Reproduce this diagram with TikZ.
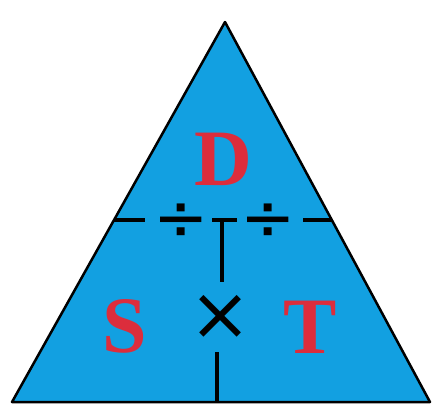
\documentclass[tikz,border=0pt]{standalone}
\usepackage{fontspec}
\newfontfamily\letterfont{Liberation Serif}
\newfontfamily\signfont{DejaVu Sans}
\usetikzlibrary{calc}
\definecolor{trianglecyan}{RGB}{18,160,225}
\definecolor{letterred}{RGB}{220,45,60}

\begin{document}
\begin{tikzpicture}[x=1pt, y=-1pt,
    letter/.style={text=letterred, font=\letterfont\bfseries\fontsize{80}{80}\selectfont, inner sep=0pt},
    opsign/.style={inner sep=0pt, font=\signfont\fontsize{66}{66}\selectfont},
    divline/.style={line width=3.5pt}
]
    \useasboundingbox (0,0) rectangle (433,410);
    % triangle
    \coordinate (apex) at (225,22);
    \coordinate (baseL) at (12,402);
    \coordinate (baseR) at (430,402);
    \draw [fill=trianglecyan, line width=2.5pt, line join=round] (apex) -- (baseR) -- (baseL) -- cycle;

    % letters
    \node [letter] (dist) at (223,159) {D};
    \node [letter] (speed) at (125,326) {S};
    \node [letter] (time) at (310,327) {T};

    % operation signs
    \node [opsign] (divL) at (181,222) {÷};
    \node [opsign] (divR) at (268,222) {÷};
    \node [opsign, font=\signfont\fontsize{74}{74}\selectfont] (mult) at (220,317) {×};

    % dashed split line
    \coordinate (h1) at (114,220);
    \coordinate (h2) at (145,220);
    \coordinate (h3) at (212,220);
    \coordinate (h4) at (237,220);
    \coordinate (h5) at (303,220);
    \coordinate (h6) at (332,220);
    \draw [divline] (h1) -- (h2);
    \draw [divline] (h3) -- (h4);
    \draw [divline] (h5) -- (h6);

    % vertical split line
    \coordinate (v1) at (222,220);
    \coordinate (v2) at (222,282);
    \coordinate (v3) at (217,352);
    \coordinate (v4) at (217,402);
    \draw [divline] (v1) -- (v2);
    \draw [divline] (v3) -- (v4);
\end{tikzpicture}
\end{document}
